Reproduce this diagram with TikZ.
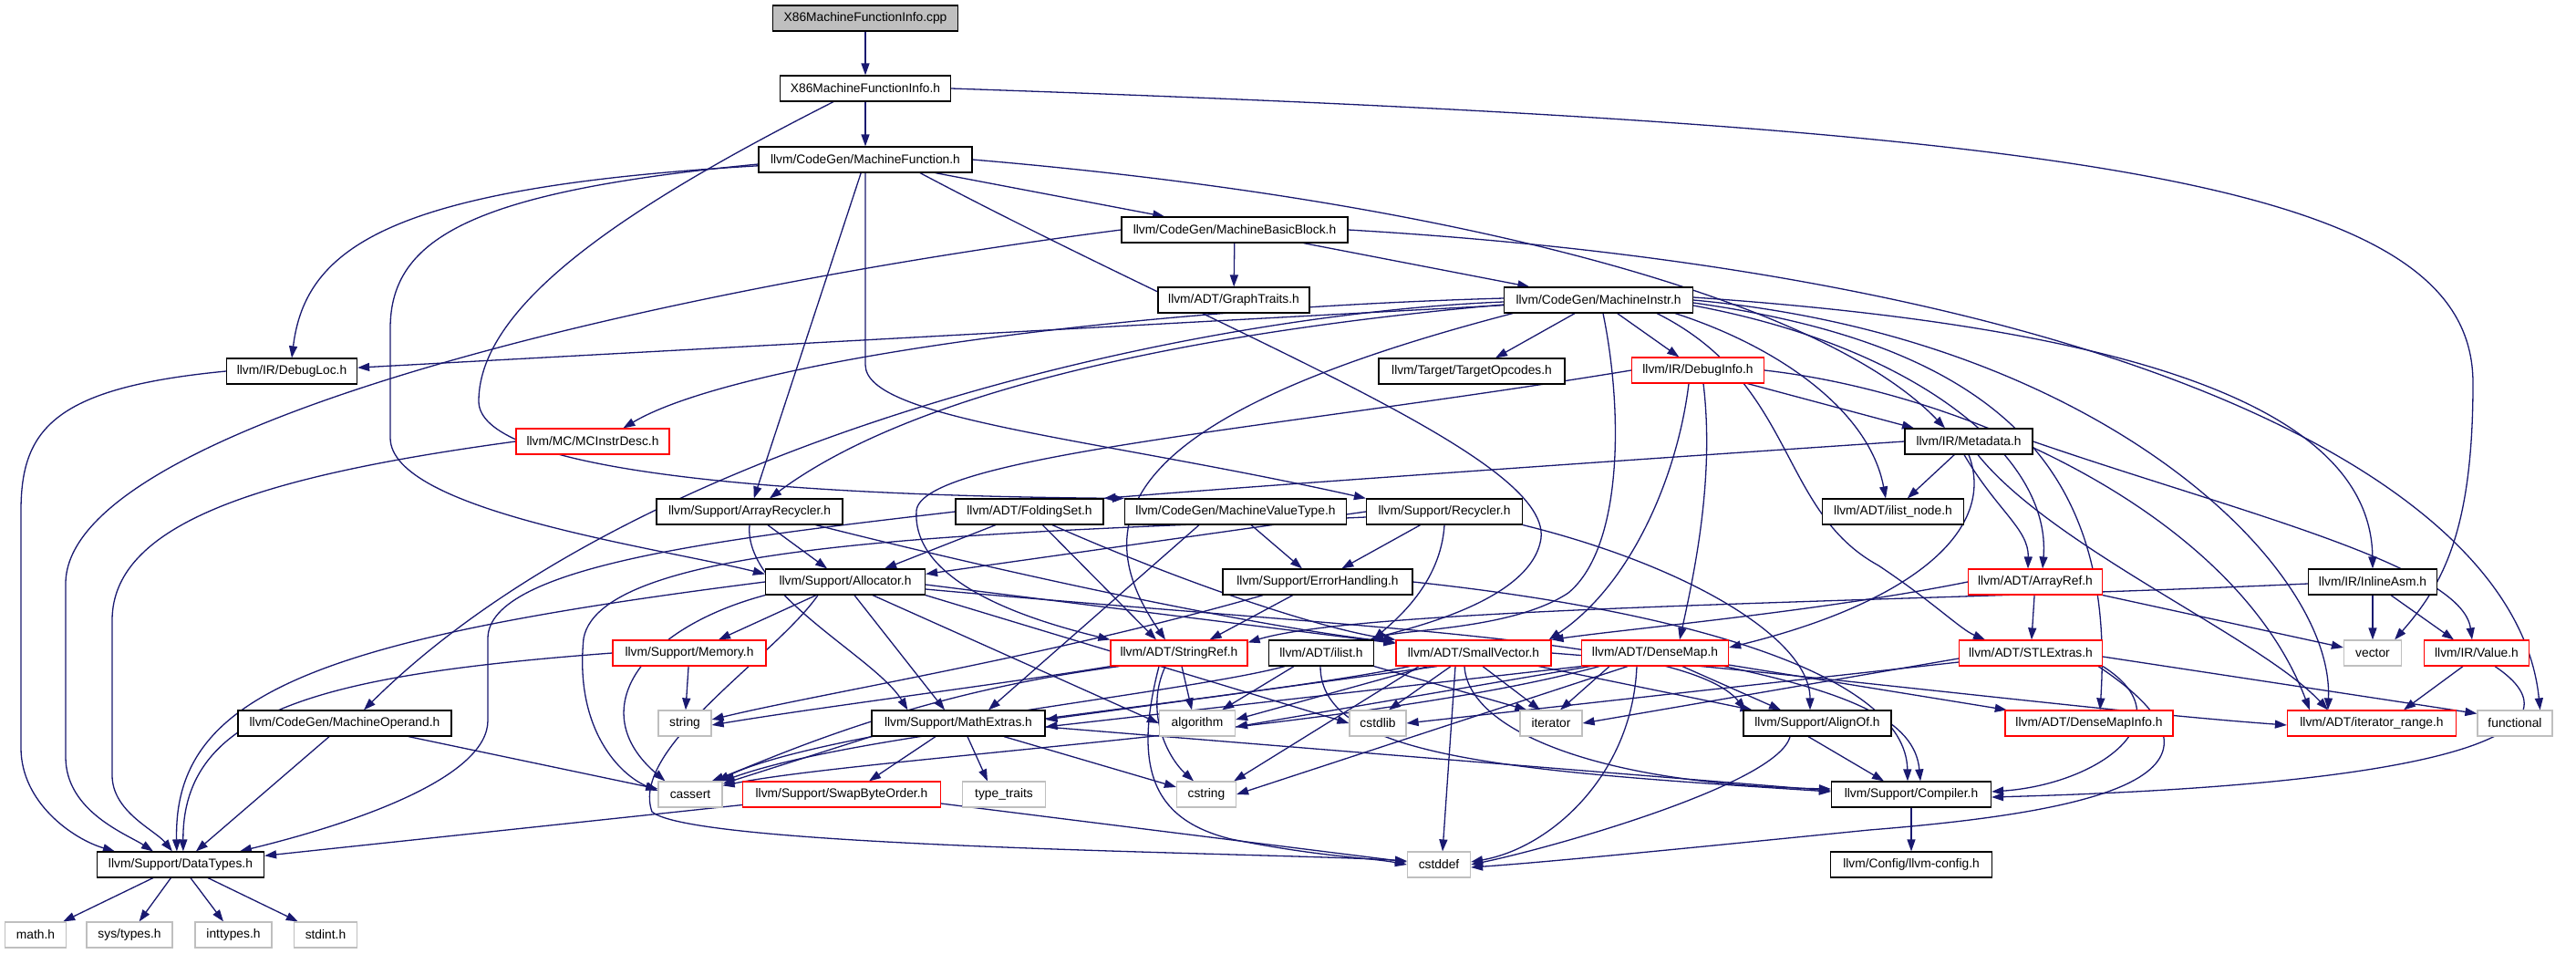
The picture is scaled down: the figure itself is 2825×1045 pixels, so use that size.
\documentclass[tikz,border=0pt]{standalone}
\usepackage{fontspec}
\setmainfont{Liberation Sans}
\usetikzlibrary{arrows.meta}
\definecolor{edgec}{RGB}{25,25,112}
\definecolor{gsev}{RGB}{191,191,191}
\pgfdeclarelayer{bg}
\pgfsetlayers{bg,main}
\tikzset{
 nb/.style={draw=black, line width=1.2pt, minimum height=28pt, inner xsep=0pt, inner ysep=0pt, font=\fontsize{13.8}{16}\selectfont, text=black, fill=white},
 rb/.style={nb, draw=red},
 gb/.style={nb, draw=gsev},
 e/.style={draw=edgec, line width=1.3pt, -{Triangle[length=13pt,width=9pt]}},
}
\begin{document}
\begin{tikzpicture}[x=1pt,y=-1pt]
\useasboundingbox (0,0) rectangle (2825,1045);
% nodes
\node[nb, fill=gsev, minimum width=203pt] (cpp) at (949,20) {X86MachineFunctionInfo.cpp};
\node[nb, minimum width=187pt] (x86h) at (949,97) {X86MachineFunctionInfo.h};
\node[nb, minimum width=234pt] (mf) at (949,175) {llvm/CodeGen/MachineFunction.h};
\node[nb, minimum width=248pt] (mbb) at (1354,252) {llvm/CodeGen/MachineBasicBlock.h};
\node[nb, minimum width=166pt] (gt) at (1353,329) {llvm/ADT/GraphTraits.h};
\node[nb, minimum width=207pt] (mi) at (1753,329) {llvm/CodeGen/MachineInstr.h};
\node[nb, minimum width=143pt] (dloc) at (320,407) {llvm/IR/DebugLoc.h};
\node[nb, minimum width=204pt] (topc) at (1614,407) {llvm/Target/TargetOpcodes.h};
\node[rb, minimum width=145pt] (dinfo) at (1862,406) {llvm/IR/DebugInfo.h};
\node[rb, minimum width=168pt] (mcid) at (650,484) {llvm/MC/MCInstrDesc.h};
\node[nb, minimum width=140pt] (meta) at (2159,484) {llvm/IR/Metadata.h};
\node[nb, minimum width=162pt] (fs) at (1129,561) {llvm/ADT/FoldingSet.h};
\node[nb, minimum width=204pt] (arec) at (822,561) {llvm/Support/ArrayRecycler.h};
\node[nb, minimum width=243pt] (mvt) at (1355,561) {llvm/CodeGen/MachineValueType.h};
\node[nb, minimum width=171pt] (rec) at (1584,561) {llvm/Support/Recycler.h};
\node[nb, minimum width=155pt] (ilnode) at (2076,561) {llvm/ADT/ilist\_node.h};
\node[nb, minimum width=175pt] (alloc) at (927,638) {llvm/Support/Allocator.h};
\node[nb, minimum width=208pt] (errh) at (1445,638) {llvm/Support/ErrorHandling.h};
\node[rb, minimum width=147pt] (aref) at (2232,638) {llvm/ADT/ArrayRef.h};
\node[nb, minimum width=141pt] (iasm) at (2602,638) {llvm/IR/InlineAsm.h};
\node[rb, minimum width=168pt] (mem) at (756,716) {llvm/Support/Memory.h};
\node[rb, minimum width=150pt] (sref) at (1293,716) {llvm/ADT/StringRef.h};
\node[nb, minimum width=115pt] (ilist) at (1449,716) {llvm/ADT/ilist.h};
\node[rb, minimum width=170pt] (svec) at (1616,716) {llvm/ADT/SmallVector.h};
\node[rb, minimum width=161pt] (dmap) at (1815,716) {llvm/ADT/DenseMap.h};
\node[rb, minimum width=157pt] (stl) at (2227,716) {llvm/ADT/STLExtras.h};
\node[gb, minimum width=63pt] (vec) at (2602,716) {vector};
\node[rb, minimum width=115pt] (val) at (2716,716) {llvm/IR/Value.h};
\node[nb, minimum width=234pt] (mop) at (378,793) {llvm/CodeGen/MachineOperand.h};
\node[gb, minimum width=58pt] (str) at (751,793) {string};
\node[nb, minimum width=190pt] (math) at (1051,793) {llvm/Support/MathExtras.h};
\node[gb, minimum width=83pt] (algo) at (1313,793) {algorithm};
\node[gb, minimum width=62pt] (cstdlib) at (1511,793) {cstdlib};
\node[gb, minimum width=68pt] (iter) at (1701,793) {iterator};
\node[nb, minimum width=162pt] (align) at (1993,793) {llvm/Support/AlignOf.h};
\node[rb, minimum width=184pt] (dmi) at (2291,793) {llvm/ADT/DenseMapInfo.h};
\node[rb, minimum width=185pt] (irange) at (2601,793) {llvm/ADT/iterator\_range.h};
\node[gb, minimum width=82pt] (func) at (2758,793) {functional};
\node[gb, minimum width=70pt] (cassert) at (757,871) {cassert};
\node[rb, minimum width=217pt] (swap) at (923,871) {llvm/Support/SwapByteOrder.h};
\node[gb, minimum width=91pt] (tt) at (1101,871) {type\_traits};
\node[gb, minimum width=65pt] (cstring) at (1323,871) {cstring};
\node[nb, minimum width=175pt] (comp) at (2096,871) {llvm/Support/Compiler.h};
\node[nb, minimum width=183pt] (dt) at (198,948) {llvm/Support/DataTypes.h};
\node[gb, minimum width=69pt] (cstddef) at (1578,948) {cstddef};
\node[nb, minimum width=177pt] (cfg) at (2096,948) {llvm/Config/llvm-config.h};
\node[gb, minimum width=67pt] (mathh) at (39,1025) {math.h};
\node[gb, minimum width=94pt] (systypes) at (142,1025) {sys/types.h};
\node[gb, minimum width=84pt] (inttypes) at (256,1025) {inttypes.h};
\node[gb, minimum width=69pt] (stdint) at (357,1025) {stdint.h};

\begin{pgfonlayer}{bg}
\fill[white] (0,0) rectangle (2825,1045);
% top
\draw[e] (cpp) -- (x86h);
\draw[e] (x86h) -- (mf);
\draw[e] ([xshift=-35pt]x86h.south) .. controls (700,220) and (525,330) .. (525,440) .. controls (525,510) and (800,543) .. (mvt.north west);
\draw[e] (x86h.east) .. controls (2300,140) and (2712,200) .. (2712,420) .. controls (2712,580) and (2680,640) .. ([xshift=-8pt]vec.north east);
% MachineFunction
\draw[e] (mf) -- (mbb);
\draw[e] (mf) .. controls (430,205) and (335,270) .. (dloc.north);
\draw[e] ([yshift=-5pt]mf.west) .. controls (520,210) and (428,260) .. (428,360) -- (428,480) .. controls (428,560) and (720,600) .. ([yshift=-6pt]alloc.north west);
\draw[e] (mf) -- (arec);
\draw[e] (mf.south) -- (949,400) .. controls (949,460) and (1200,480) .. (rec.north west);
\draw[e] ([xshift=60pt]mf.south) .. controls (1350,370) and (1700,500) .. (1690,590) .. controls (1680,660) and (1540,690) .. ([xshift=-5pt]ilist.north east);
\draw[e] (mf.east) .. controls (1600,220) and (2000,330) .. ([xshift=-26pt]meta.north);
% MachineBasicBlock
\draw[e] (mbb) -- (gt);
\draw[e] (mbb) -- (mi);
\draw[e] (mbb.west) .. controls (700,320) and (72,470) .. (72,640) -- (72,830) .. controls (72,890) and (140,915) .. ([xshift=62pt]dt.north west);
\draw[e] (mbb.east) .. controls (2300,300) and (2760,520) .. ([xshift=-14pt]func.north east);
% MachineInstr
\draw[e] (mi) -- (dloc);
\draw[e] ([yshift=2pt]mi.west) .. controls (1200,340) and (800,400) .. ([xshift=118pt]mcid.north west);
\draw[e] ([yshift=-2pt]mi.west) .. controls (1300,345) and (700,480) .. ([xshift=21pt]mop.north);
\draw[e] ([yshift=-5pt]mi.west) .. controls (1300,365) and (1000,430) .. ([xshift=22pt]arec.north);
\draw[e] ([xshift=10pt]mi.south west) .. controls (1250,450) and (1180,560) .. ([xshift=-15pt]sref.north);
\draw[e] (mi) -- (topc);
\draw[e] (mi) -- (dinfo);
\draw[e] ([xshift=5pt]mi.south) .. controls (1780,450) and (1780,600) .. (1720,650) .. controls (1660,690) and (1540,690) .. ([xshift=-3pt]ilist.north east);
\draw[e] ([xshift=-20pt]mi.south east) .. controls (1950,380) and (2050,450) .. ([xshift=-8pt]ilnode.north);
\draw[e] ([xshift=-40pt]mi.south east) .. controls (1970,420) and (1950,560) .. (2060,620) .. controls (2120,660) and (2150,690) .. ([xshift=-50pt]stl.north);
\draw[e] ([yshift=-6pt]mi.east) .. controls (2100,380) and (2250,500) .. ([xshift=8pt]aref.north);
\draw[e] ([yshift=-3pt]mi.east) .. controls (2200,380) and (2320,520) .. ([xshift=12pt]dmi.north);
\draw[e] (mi.east) .. controls (2300,370) and (2560,620) .. ([xshift=45pt]irange.north west);
\draw[e] ([yshift=3pt]mi.east) .. controls (2350,360) and (2600,450) .. (iasm.north);
% DebugInfo
\draw[e] (dinfo) -- ([xshift=-60pt]meta.north);
\draw[e] (dinfo.west) .. controls (1400,470) and (1010,500) .. (1005,560) .. controls (1000,640) and (1130,680) .. (sref.north west);
\draw[e] ([xshift=-10pt]dinfo.south) .. controls (1840,520) and (1790,640) .. ([xshift=-3pt]svec.north east);
\draw[e] ([xshift=6pt]dinfo.south) .. controls (1880,520) and (1860,620) .. ([xshift=27pt]dmap.north);
\draw[e] (dinfo.east) .. controls (2150,430) and (2450,560) .. ([xshift=25pt]irange.north west);
% Metadata
\draw[e] (meta.west) .. controls (1700,510) and (1350,535) .. (fs.north east);
\draw[e] (meta) -- (ilnode);
\draw[e] ([xshift=-5pt]meta.south) .. controls (2190,560) and (2225,580) .. ([xshift=-8pt]aref.north);
\draw[e] (meta.south) .. controls (2190,580) and (2100,660) .. ([yshift=6pt]dmap.east);
\draw[e] ([xshift=10pt]meta.south) .. controls (2250,600) and (2480,700) .. ([xshift=45pt]irange.north west);
\draw[e] (meta.east) .. controls (2450,560) and (2700,620) .. ([xshift=-5pt]val.north);
% FoldingSet
\draw[e] (fs) -- ([xshift=-25pt]sref.north);
\draw[e] ([xshift=25pt]fs.south) .. controls (1300,640) and (1450,690) .. (svec.north west);
\draw[e] (fs) -- ([xshift=-45pt]alloc.north east);
\draw[e] (fs.west) .. controls (800,590) and (535,620) .. (535,700) -- (535,790) .. controls (535,850) and (400,900) .. ([xshift=157pt]dt.north west);
% ArrayRecycler
\draw[e] (arec) -- (alloc);
\draw[e] (arec.south) .. controls (815,650) and (960,720) .. ([xshift=40pt]math.north west);
\draw[e] ([xshift=-30pt]arec.south east) .. controls (1150,640) and (1400,690) .. ([yshift=-3pt]svec.north west);
% MachineValueType
\draw[e] (mvt) -- (errh);
\draw[e] ([xshift=-40pt]mvt.south) -- ([xshift=33pt]math.north);
% Recycler
\draw[e] (rec) -- (errh);
\draw[e] (rec.west) -- ([yshift=-6pt]alloc.north east);
\draw[e] (rec.south) .. controls (1580,640) and (1530,680) .. ([xshift=-1pt]ilist.north east);
\draw[e] (rec.south east) .. controls (1850,620) and (1985,700) .. ([xshift=-8pt]align.north);
\draw[e] ([yshift=-6pt]rec.west) .. controls (1100,585) and (660,590) .. (640,700) .. controls (630,800) and (680,850) .. ([yshift=4pt]cassert.west);
% ErrorHandling
\draw[e] (errh) -- ([xshift=-42pt]sref.north east);
\draw[e] ([xshift=-60pt]errh.south) .. controls (1150,720) and (900,760) .. ([yshift=4pt]str.east);
\draw[e] (errh.east) .. controls (1850,670) and (2090,740) .. ([xshift=-4pt]comp.north);
% Allocator
\draw[e] ([yshift=-3pt]alloc.east) -- ([yshift=-4pt]svec.north west);
\draw[e] ([yshift=-8pt]alloc.east) .. controls (1500,690) and (1850,700) .. ([xshift=3pt]align.north west);
\draw[e] (alloc) -- (mem);
\draw[e] ([xshift=10pt]alloc.south) -- ([xshift=-15pt]math.north);
\draw[e] ([xshift=30pt]alloc.south) -- (algo.west);
\draw[e] (alloc.south east) -- (cstdlib.west);
\draw[e] (alloc.south west) .. controls (700,690) and (640,780) .. ([xshift=8pt]cassert.north west);
\draw[e] ([xshift=-30pt]alloc.south) .. controls (850,720) and (690,820) .. (715,890) .. controls (760,930) and (1400,935) .. ([yshift=4pt]cstddef.west);
\draw[e] (alloc.west) .. controls (350,700) and (190,760) .. ([xshift=88pt]dt.north west);
% Memory
\draw[e] (mem) -- (str);
\draw[e] (mem.west) .. controls (350,740) and (200,780) .. ([xshift=95pt]dt.north west);
% MachineOperand, MCInstrDesc, DebugLoc
\draw[e] (mop) -- (dt);
\draw[e] ([xshift=70pt]mop.south) -- ([yshift=6pt]cassert.west);
\draw[e] (mcid.west) .. controls (300,520) and (123,570) .. (123,680) -- (123,850) .. controls (123,890) and (170,910) .. ([xshift=83pt]dt.north west);
\draw[e] (dloc.west) .. controls (60,425) and (23,470) .. (23,560) -- (23,820) .. controls (23,880) and (80,920) .. ([xshift=20pt]dt.north west);
% StringRef
\draw[e] ([xshift=3pt]sref.south) -- ([xshift=-6pt]algo.north);
\draw[e] ([xshift=-15pt]sref.south) .. controls (1255,780) and (1280,830) .. ([xshift=-14pt]cstring.north);
\draw[e] (sref.south west) .. controls (1100,750) and (900,775) .. ([yshift=-2pt]str.east);
\draw[e] ([xshift=10pt]sref.south west) .. controls (1000,760) and (850,830) .. ([xshift=-12pt]cassert.north east);
\draw[e] ([xshift=-22pt]sref.south) .. controls (1240,850) and (1270,900) .. (1350,920) .. controls (1450,940) and (1500,940) .. (cstddef.west);
% ilist
\draw[e] ([xshift=-30pt]ilist.south) -- ([xshift=-15pt]algo.north east);
\draw[e] (ilist.south east) -- ([xshift=8pt]iter.north west);
\draw[e] ([xshift=-1pt]ilist.south) .. controls (1448,830) and (1650,845) .. ([yshift=3pt]comp.west);
\draw[e] ([xshift=-40pt]ilist.south) .. controls (1300,760) and (900,800) .. ([xshift=-6pt]cassert.north east);
% SmallVector
\draw[e] (svec.east) .. controls (1950,735) and (2300,780) .. ([yshift=-2pt]irange.west);
\draw[e] (svec) -- (align);
\draw[e] ([xshift=-10pt]svec.south) .. controls (1610,800) and (1750,860) .. ([yshift=6pt]comp.west);
\draw[e] ([xshift=-40pt]svec.south) -- ([yshift=4pt]math.east);
\draw[e] ([xshift=-50pt]svec.south) -- ([yshift=4pt]algo.east);
\draw[e] ([xshift=-70pt]svec.south) .. controls (1350,770) and (950,800) .. (cassert.north east);
\draw[e] ([xshift=-20pt]svec.south) -- ([xshift=4pt]cstddef.north);
\draw[e] ([xshift=-25pt]svec.south) -- ([xshift=12pt]cstdlib.north);
\draw[e] ([xshift=-60pt]svec.south) -- ([xshift=-3pt]cstring.north east);
\draw[e] ([xshift=10pt]svec.south) -- ([xshift=-12pt]iter.north);
% DenseMap
\draw[e] (dmap) -- (dmi);
\draw[e] ([xshift=30pt]dmap.south) -- ([xshift=-40pt]align.north);
\draw[e] ([xshift=-5pt]dmap.south east) .. controls (2030,760) and (2100,790) .. ([xshift=10pt]comp.north);
\draw[e] (dmap.south west) -- ([yshift=-4pt]math.east);
\draw[e] ([xshift=10pt]dmap.south west) -- ([yshift=-4pt]algo.east);
\draw[e] ([xshift=20pt]dmap.south west) .. controls (1500,800) and (950,830) .. ([yshift=-5pt]cassert.north east);
\draw[e] ([xshift=-20pt]dmap.south) .. controls (1790,850) and (1700,930) .. ([yshift=3pt]cstddef.east);
\draw[e] ([xshift=-30pt]dmap.south) -- (cstring.east);
\draw[e] ([xshift=-50pt]dmap.south) -- ([xshift=10pt]iter.north);
% STLExtras
\draw[e] ([yshift=-4pt]stl.east) -- ([yshift=-4pt]func.north west);
\draw[e] (stl.south east) .. controls (2400,790) and (2300,860) .. ([yshift=3pt]comp.east);
\draw[e] ([xshift=-5pt]stl.south east) .. controls (2480,850) and (2300,890) .. (2050,910) .. controls (1850,930) and (1700,945) .. ([yshift=-3pt]cstddef.east);
\draw[e] ([yshift=-6pt]stl.west) -- (iter.east);
\draw[e] ([yshift=-10pt]stl.west) -- (cstdlib.east);
% AlignOf
\draw[e] ([xshift=-10pt]align.south) -- ([xshift=-30pt]comp.north);
\draw[e] ([xshift=-30pt]align.south) .. controls (1950,860) and (1700,930) .. (cstddef.east);
% MathExtras
\draw[e] ([xshift=-25pt]math.south) -- ([xshift=30pt]swap.north);
\draw[e] ([xshift=10pt]math.south) -- ([xshift=-18pt]tt.north);
\draw[e] ([xshift=50pt]math.south) -- ([yshift=8pt]cstring.west);
\draw[e] ([yshift=-4pt]math.east) -- ([yshift=4pt]comp.west);
\draw[e] (math.south west) -- ([yshift=-3pt]cassert.north east);
% SwapByteOrder
\draw[e] (swap) -- (dt);
\draw[e] ([yshift=-10pt]swap.east) -- ([yshift=3pt]cstddef.west);
% InlineAsm
\draw[e] ([yshift=-2pt]iasm.west) .. controls (2100,660) and (1500,665) .. ([yshift=-3pt]sref.north east);
\draw[e] (iasm) -- (vec);
\draw[e] ([xshift=20pt]iasm.south) -- ([xshift=-25pt]val.north);
% ArrayRef
\draw[e] (aref) -- (stl);
\draw[e] (aref.south east) -- ([yshift=6pt]vec.west);
\draw[e] (aref.west) .. controls (2000,670) and (1780,690) .. (svec.north east);
% Value
\draw[e] ([xshift=-15pt]val.south) -- ([xshift=35pt]irange.north);
\draw[e] ([xshift=20pt]val.south) .. controls (2840,800) and (2700,860) .. ([yshift=-3pt]comp.east);
% Compiler, DataTypes
\draw[e] (comp) -- (cfg);
\draw[e] (dt) -- (mathh);
\draw[e] (dt) -- (systypes);
\draw[e] (dt) -- (inttypes);
\draw[e] (dt) -- (stdint);
\end{pgfonlayer}
\end{tikzpicture}
\end{document}
